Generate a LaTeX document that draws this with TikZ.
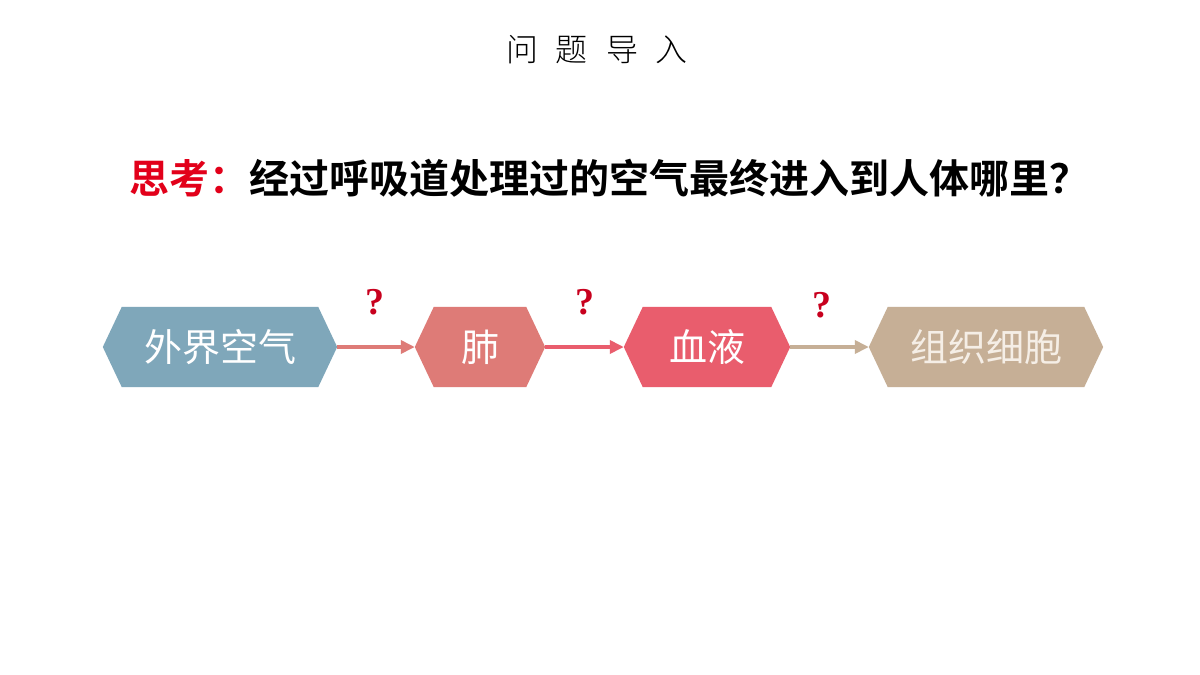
\documentclass[tikz,border=0pt]{standalone}
\usepackage{fontspec}
\usetikzlibrary{arrows.meta,backgrounds}
\newfontfamily\cjk{Noto Sans CJK SC}
\newfontfamily\cjkbold{Noto Sans CJK SC Bold}
\newfontfamily\cjklight{Noto Sans CJK SC Light}
\newfontfamily\qmfont{Liberation Serif}
\definecolor{cblue}{HTML}{7FA7BA}
\definecolor{csalmon}{HTML}{DE7B77}
\definecolor{cpink}{HTML}{E95D6D}
\definecolor{ctan}{HTML}{C6AF96}
\definecolor{ctantext}{HTML}{F5EEE6}
\definecolor{cqm}{HTML}{C8001E}
\definecolor{cthink}{HTML}{E2001A}
\tikzset{
  hexnode/.style={inner sep=0pt, minimum height=80pt, text=white,
    font=\cjk\fontsize{38}{42}\selectfont},
  qm/.style={text=cqm, font=\qmfont\bfseries\fontsize{38}{42}\selectfont, inner sep=0pt},
  flowarrow/.style={line width=3.5pt, -{Triangle[length=14pt,width=13pt]}},
}
\newcommand{\hexfill}[2]{%
  \fill[#2] (#1.west) -- ([xshift=19pt]#1.north west) -- ([xshift=-19pt]#1.north east)
   -- (#1.east) -- ([xshift=-19pt]#1.south east) -- ([xshift=19pt]#1.south west) -- cycle;}
\begin{document}
\begin{tikzpicture}[x=1pt,y=-1pt]
\useasboundingbox (0,0) rectangle (1200,675);
\node[inner sep=0pt, font=\cjklight\fontsize{32}{36}\selectfont] (title) at (597,50)
  {问\hspace{18pt}题\hspace{18pt}导\hspace{18pt}入};
\node[inner sep=0pt, font=\cjkbold\fontsize{40}{48}\selectfont] (question) at (609,178)
  {\textcolor{cthink}{思考：}经过呼吸道处理过的空气最终进入到人体哪里？};
\node[hexnode, minimum width=234pt] (air) at (220,347) {外界空气};
\node[hexnode, minimum width=130pt] (lung) at (480,347) {肺};
\node[hexnode, minimum width=166pt] (blood) at (707,347) {血液};
\node[hexnode, minimum width=234pt, text=ctantext] (cell) at (986,347) {组织细胞};
\begin{scope}[on background layer]
  \fill[white] (0,0) rectangle (1200,675);
  \hexfill{air}{cblue}
  \hexfill{lung}{csalmon}
  \hexfill{blood}{cpink}
  \hexfill{cell}{ctan}
\end{scope}
\draw[flowarrow, csalmon] (air.east) -- (lung.west);
\draw[flowarrow, cpink] (lung.east) -- (blood.west);
\draw[flowarrow, ctan] (blood.east) -- (cell.west);
\node[qm] (q1) at (375,302) {?};
\node[qm] (q2) at (585,302) {?};
\node[qm] (q3) at (822,305) {?};
\end{tikzpicture}
\end{document}
